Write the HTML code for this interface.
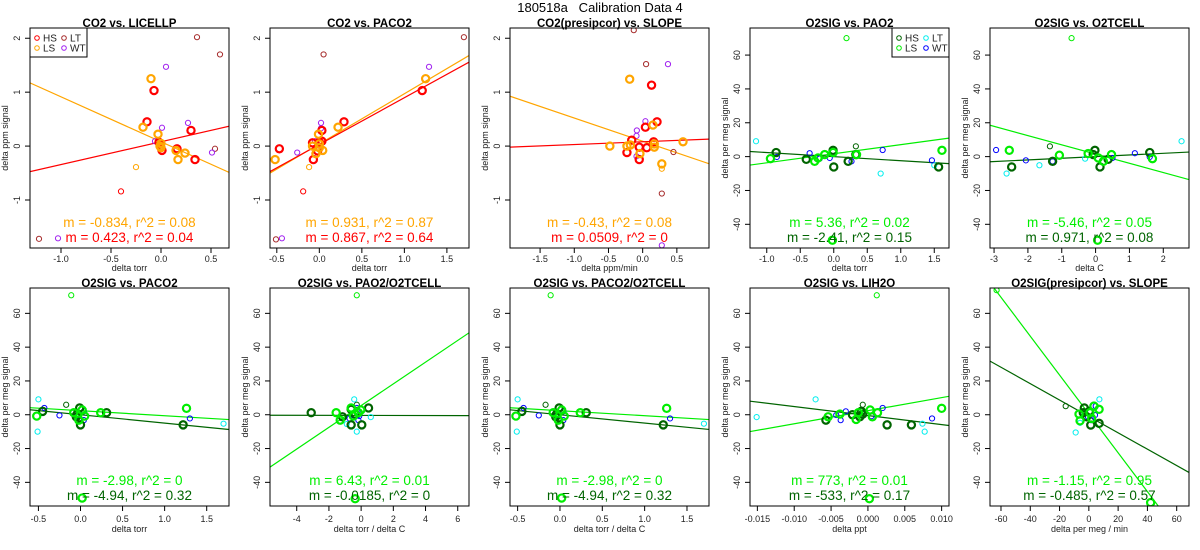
<!DOCTYPE html>
<html><head><meta charset="utf-8">
<style>
html,body{margin:0;padding:0;background:#fff;}
svg{display:block;font-family:"Liberation Sans",sans-serif;}
</style></head>
<body>
<svg id="chart" width="1200" height="550" viewBox="0 0 1200 550">
<text x="600" y="12" text-anchor="middle" font-size="13" xml:space="preserve" style="white-space:pre">180518a   Calibration Data 4</text>
</svg>
<script>
// ---- data ----
const p1HS=[[-0.07,1.03],[-0.14,0.45],[0.30,0.29],[0.34,-0.25],[0.16,-0.05],[0.01,-0.08],[-0.02,0.07]];
const p1LS=[[-0.10,1.25],[-0.18,0.35],[-0.03,0.22],[0.00,0.05],[0.00,-0.03],[0.15,-0.08],[0.24,-0.13],[0.17,-0.25],[-0.01,0.0]];
const p1LT=[[0.36,2.02],[0.59,1.70],[0.54,-0.05],[-1.22,-1.72]];
const p1WT=[[0.05,1.47],[0.01,0.34],[0.27,0.43],[-0.06,0.09],[0.51,-0.12],[-1.03,-1.71]];
const p1HSt=[[-0.40,-0.84]];
const p1LSt=[[-0.25,-0.39]];
const p1Slopes=[-0.834,0.423];
const p1Icpts=[0.08,0.08];

const p2HS=[[-0.47,-0.05],[-0.07,-0.25],[-0.08,0.06],[0.03,0.29],[0.03,0.09],[0.00,0.07],[-0.02,-0.09],[0.29,0.45],[1.21,1.03]];
const p2LS=[[-0.52,-0.25],[-0.08,0.00],[-0.01,0.22],[0.22,0.35],[0.00,0.04],[0.04,-0.08],[-0.04,-0.14],[1.25,1.25],[0.00,-0.03]];
const p2LT=[[0.05,1.70],[1.70,2.02],[-0.51,-1.73]];
const p2WT=[[1.29,1.47],[0.02,0.43],[0.02,0.33],[-0.26,-0.12],[-0.05,0.09],[-0.44,-1.71]];
const p2HSt=[[-0.19,-0.84]];
const p2LSt=[[-0.12,-0.39]];
const p2Slopes=[0.931,0.867];
const p2Icpts=[0.04,0.03];

const p3HS=[[-0.23,-0.12],[-0.16,0.11],[-0.05,-0.25],[-0.05,-0.02],[0.04,0.35],[0.06,-0.03],[0.13,1.13],[0.16,0.08],[0.21,0.45]];
const p3LS=[[-0.48,0.0],[-0.19,1.24],[-0.23,0.0],[-0.18,0.02],[-0.04,-0.14],[0.15,0.39],[0.17,0.04],[0.17,-0.02],[0.28,-0.33],[0.59,0.08]];
const p3LT=[[-0.13,2.15],[0.05,1.52],[0.45,-0.11],[0.28,-0.88]];
const p3WT=[[0.37,1.52],[0.04,0.46],[-0.085,0.29],[-0.09,0.19],[-0.09,-0.19],[0.28,-1.84]];
const p3HSt=[];
const p3LSt=[[0.28,-0.42]];
const p3Slopes=[-0.43,0.0509];
const p3Icpts=[0.09,0.08];

const p4HS=[[-0.86,2.4],[-0.41,-1.6],[-0.01,3.7],[0,-6.1],[0.215,-2.8],[1.565,-6.1],[0.33,1.2]];
const p4LS=[[-0.945,-1.2],[-0.285,-2.8],[-0.135,1.2],[-0.01,2.4],[0.34,1.2],[1.615,3.7],[-0.02,-49.4],[-0.235,-0.8]];
const p4LT=[[-1.16,9.1],[0.70,-10],[1.5,-5.1]];
const p4WT=[[-0.85,-0.2],[-0.36,2],[-0.06,-0.8],[0.265,-2.8],[0.73,3.9],[1.465,-2.2],[-0.21,-1.2]];
const p4HSt=[[0.33,6.1]];
const p4LSt=[[0.19,70]];
const p4Slopes=[5.36,-2.41];
const p4Icpts=[1.7,0];

const p5HS=[[-2.48,-6.1],[-1.27,-2.8],[-0.02,3.7],[0.13,-6.1],[0.37,-1.6],[1.6,2.4],[-0.07,1.2]];
const p5LS=[[-2.55,3.7],[-1.07,0.8],[-0.22,1.8],[0.08,-0.8],[0.23,-2.8],[0.47,1.2],[1.68,-1.2],[0.06,-49.4]];
const p5LT=[[-2.63,-10],[-1.66,-5.1],[-0.31,-1.2],[2.54,9.1]];
const p5WT=[[-2.94,3.9],[-2.06,-2.2],[-1.27,-2.8],[0.5,-0.8],[1.16,2],[1.6,-0.2]];
const p5HSt=[[-1.35,6.1]];
const p5LSt=[[-0.71,70]];
const p5Slopes=[-5.46,0.971];
const p5Icpts=[1.5,0];

const p6HS=[[-0.45,2],[-0.01,4],[0,-6],[0.31,1.2],[1.22,-6],[-0.05,-1.2],[-0.04,0.4]];
const p6LS=[[-0.52,-0.8],[-0.08,1.2],[-0.02,-3.2],[0.05,-0.8],[0.24,1.2],[1.26,3.8],[0.02,-49.3],[0.02,2.8]];
const p6LT=[[-0.5,9.1],[-0.51,-10],[1.7,-5.3]];
const p6WT=[[-0.43,4],[-0.25,-0.4],[-0.04,-0.8],[0.04,2],[0.04,-3.2],[1.3,-2.2]];
const p6HSt=[[-0.17,5.9]];
const p6LSt=[[-0.11,70.7]];
const p6Slopes=[-2.98,-4.94];
const p6Icpts=[2.4,0];

const p7HS=[[-3.1,1.2],[-1.16,-1.2],[-0.62,-6],[0.04,-6],[0.46,4],[-0.62,3.2],[-0.37,0.4]];
const p7LS=[[-1.55,1.2],[-1.3,-3.2],[-0.62,4],[-0.02,2.8],[-0.48,-0.8],[-0.17,1.2],[-0.37,-49.7]];
const p7LT=[[-0.43,9.1],[-0.27,-10],[-0.89,-5.5],[0.6,-1.4]];
const p7WT=[[-0.27,4],[-0.72,-2.2],[-0.23,1.8],[-0.17,-3.2],[-0.12,-0.8]];
const p7HSt=[[-0.27,5.9]];
const p7LSt=[[-0.27,70.7]];
const p7Slopes=[6.43,-0.0185];
const p7Icpts=[5.4,-0.4];

const p8HS=[[-0.45,2],[-0.01,4],[0,-6],[0.31,1.2],[1.22,-6],[-0.05,-1.2],[-0.04,0.4]];
const p8LS=[[-0.52,-0.8],[-0.08,1.2],[-0.02,-3.2],[0.05,-0.8],[0.24,1.2],[1.26,3.8],[0.02,-49.3],[0.02,2.8]];
const p8LT=[[-0.5,9.1],[-0.51,-10],[1.7,-5.3]];
const p8WT=[[-0.43,4],[-0.25,-0.4],[-0.04,-0.8],[0.04,2],[0.04,-3.2],[1.3,-2.2]];
const p8HSt=[[-0.17,5.9]];
const p8LSt=[[-0.11,70.7]];
const p8Slopes=[-2.98,-4.94];
const p8Icpts=[2.4,0];

const p9HS=[[-0.0057,-3.2],[-0.0021,0],[-0.0011,-1.2],[-0.0009,2],[0.0026,-6],[0.0059,-6],[-0.0007,0.4]];
const p9LS=[[-0.0054,-1.2],[-0.0038,0.4],[-0.0016,-2.8],[-0.0013,1.2],[0.0003,2.8],[0.0013,1.2],[0.01,3.8],[0.0006,-1.2],[0.0002,-49.7]];
const p9LT=[[-0.0151,-1.4],[-0.0071,9.1],[0.0074,-5.3],[0.0077,-10]];
const p9WT=[[-0.0043,-0.2],[-0.0037,-3.2],[-0.003,2],[0.0005,-0.8],[0.002,4],[0.0087,-2.2]];
const p9HSt=[[-0.0007,5.9]];
const p9LSt=[[0.0012,70.7]];
const p9Slopes=[773,-533];
const p9Icpts=[2.4,-0.5];

const p10HS=[[-3.1,4],[0.3,2],[1.3,-6.1],[7,-5.1],[-3.8,1.2],[-1.5,-1.2]];
const p10LS=[[-6.7,0.4],[-6,-3.6],[3.5,5.1],[7,3.2],[0.8,1.2],[42.2,-52],[1.9,-2.2]];
const p10LT=[[-9,-10.5],[-6,-4.8],[7.2,9.1]];
const p10WT=[[-2.6,1.8],[4.7,5.1],[4.2,-0.2],[-0.6,-1.2],[1.5,-3.2],[-3.1,0.4]];
const p10HSt=[[-15.8,5.1]];
const p10LSt=[[-63,73.7]];
const p10Slopes=[-1.15,-0.485];
const p10Icpts=[0.5,-1];

const panelTitles=["CO2 vs. LICELLP","CO2 vs. PACO2","CO2(presipcor) vs. SLOPE","O2SIG vs. PAO2","O2SIG vs. O2TCELL","O2SIG vs. PACO2","O2SIG vs. PAO2/O2TCELL","O2SIG vs. PACO2/O2TCELL","O2SIG vs. LIH2O","O2SIG(presipcor) vs. SLOPE"];
const xLabels=["delta torr","delta torr","delta ppm/min","delta torr","delta C","delta torr","delta torr / delta C","delta torr / delta C","delta ppt","delta per meg / min"];
const fitLabels=[
 ["m = -0.834, r^2 = 0.08","m = 0.423, r^2 = 0.04"],
 ["m = 0.931, r^2 = 0.87","m = 0.867, r^2 = 0.64"],
 ["m = -0.43, r^2 = 0.08","m = 0.0509, r^2 = 0"],
 ["m = 5.36, r^2 = 0.02","m = -2.41, r^2 = 0.15"],
 ["m = -5.46, r^2 = 0.05","m = 0.971, r^2 = 0.08"],
 ["m = -2.98, r^2 = 0","m = -4.94, r^2 = 0.32"],
 ["m = 6.43, r^2 = 0.01","m = -0.0185, r^2 = 0"],
 ["m = -2.98, r^2 = 0","m = -4.94, r^2 = 0.32"],
 ["m = 773, r^2 = 0.01","m = -533, r^2 = 0.17"],
 ["m = -1.15, r^2 = 0.95","m = -0.485, r^2 = 0.57"]];
const xTicks=[[-1,-0.5,0,0.5],[-0.5,0,0.5,1,1.5],[-1.5,-1,-0.5,0,0.5],[-1,-0.5,0,0.5,1,1.5],[-3,-2,-1,0,1,2],
 [-0.5,0,0.5,1,1.5],[-4,-2,0,2,4,6],[-0.5,0,0.5,1,1.5],[-0.015,-0.01,-0.005,0,0.005,0.01],[-60,-40,-20,0,20,40,60]];
const xDecimals=[1,1,1,1,0,1,0,1,3,0];
const co2YTicks=[-1,0,1,2];
const o2YTicks=[-40,-20,0,20,40,60];

// ---- layout (not data) ----
const xLims=[[-1.31,0.68],[-0.58,1.76],[-1.94,0.97],[-1.25,1.72],[-3.12,2.76],[-0.6,1.765],[-5.66,6.7],[-0.59,1.76],[-0.016,0.011],[-67.5,68.4]];
const co2Lim=[-1.89,2.19], o2LimTop=[-54,76], o2LimBot=[-54,75];

const NS="http://www.w3.org/2000/svg";
const svg=document.getElementById('chart');
function mk(tag,attrs,parent){const e=document.createElementNS(NS,tag);for(const k in attrs)e.setAttribute(k,attrs[k]);(parent||svg).appendChild(e);return e;}

const pdata=[[p1HS,p1LS,p1LT,p1WT,p1HSt,p1LSt,p1Slopes,p1Icpts],[p2HS,p2LS,p2LT,p2WT,p2HSt,p2LSt,p2Slopes,p2Icpts],
 [p3HS,p3LS,p3LT,p3WT,p3HSt,p3LSt,p3Slopes,p3Icpts],[p4HS,p4LS,p4LT,p4WT,p4HSt,p4LSt,p4Slopes,p4Icpts],
 [p5HS,p5LS,p5LT,p5WT,p5HSt,p5LSt,p5Slopes,p5Icpts],[p6HS,p6LS,p6LT,p6WT,p6HSt,p6LSt,p6Slopes,p6Icpts],
 [p7HS,p7LS,p7LT,p7WT,p7HSt,p7LSt,p7Slopes,p7Icpts],[p8HS,p8LS,p8LT,p8WT,p8HSt,p8LSt,p8Slopes,p8Icpts],
 [p9HS,p9LS,p9LT,p9WT,p9HSt,p9LSt,p9Slopes,p9Icpts],[p10HS,p10LS,p10LT,p10WT,p10HSt,p10LSt,p10Slopes,p10Icpts]];

const co2Col={HS:'#ff0000',LS:'#ffa500',LT:'#a52a2a',WT:'#a020f0'};
const o2Col={HS:'#006400',LS:'#00ee00',LT:'#00eeee',WT:'#0000ff'};

for(let i=0;i<10;i++){
  const col=i%5,row=Math.floor(i/5);
  const L=30+240*col,R=229+240*col;
  const T=row===0?28:288,B=row===0?248:506;
  const isCO2=(i<3);
  const C=isCO2?co2Col:o2Col;
  const yl=isCO2?co2Lim:(row===0?o2LimTop:o2LimBot);
  const yt=isCO2?co2YTicks:o2YTicks;
  const xl=xLims[i];
  const sx=v=>L+(v-xl[0])/(xl[1]-xl[0])*(R-L);
  const sy=v=>B-(v-yl[0])/(yl[1]-yl[0])*(B-T);
  const g=mk('g',{});
  
  
  const clipId='clip'+i;
  const cp=mk('clipPath',{id:clipId},g);mk('rect',{x:L,y:T,width:R-L,height:B-T},cp);
  const tickOff=row===0?14:16, labOff=row===0?23:26;
  const xlab=mk('text',{x:(L+R)/2,y:B+labOff,'text-anchor':'middle','font-size':'9',fill:'#222'},g);xlab.textContent=xLabels[i];
  
  
  xTicks[i].forEach(v=>{const x=sx(v);mk('line',{x1:x,x2:x,y1:B,y2:B+5,stroke:'#000','stroke-width':1},g);
    const t=mk('text',{x:x,y:B+tickOff,'text-anchor':'middle','font-size':'9',fill:'#222'},g);t.textContent=v.toFixed(xDecimals[i]);
    
    });
  yt.forEach(v=>{const y=sy(v);mk('line',{x1:L-5,x2:L,y1:y,y2:y,stroke:'#000','stroke-width':1},g);
    const t=mk('text',{x:L-10,y:y,'text-anchor':'middle','font-size':'9',fill:'#222',transform:`rotate(-90 ${L-10} ${y})`},g);t.textContent=String(v);
    
    });
  const yx=L-22,yc=(T+B)/2;
  const ylab=mk('text',{x:yx,y:yc,'text-anchor':'middle','font-size':'9',fill:'#222',transform:`rotate(-90 ${yx} ${yc})`},g);ylab.textContent=isCO2?'delta ppm signal':'delta per meg signal';
  
  
  const tt=mk('text',{x:(L+R)/2,y:T-1,'text-anchor':'middle','font-size':'11.5','font-weight':'bold'},g);tt.textContent=panelTitles[i];
  
  
  const [hs,ls,lt,wt,hst,lst,sl,ic]=pdata[i];
  const pg=mk('g',{'clip-path':`url(#${clipId})`},g);
  [[sl[0],ic[0],C.LS],[sl[1],ic[1],C.HS]].forEach(([m,b,c])=>{
    const ln=mk('line',{x1:sx(xl[0]),y1:sy(m*xl[0]+b),x2:sx(xl[1]),y2:sy(m*xl[1]+b),stroke:c,'stroke-width':1.2},pg);
    
    
  });
  const pts=(arr,c,bold,name)=>arr.forEach(p=>{const e=mk('circle',{cx:sx(p[0]),cy:sy(p[1]),r:bold?3.6:2.6,fill:'none',stroke:c,'stroke-width':bold?2.2:1},pg);
    
    });
  pts(lt,C.LT,false,'lt');pts(wt,C.WT,false,'wt');pts(hst,C.HS,false,'hs');pts(lst,C.LS,false,'ls');
  pts(hs,C.HS,true,'hs');pts(ls,C.LS,true,'ls');
  const ly1=row===0?227:485, ly2=row===0?242:500;
  const a1=mk('text',{x:(L+R)/2,y:ly1,'text-anchor':'middle','font-size':'13.5',fill:C.LS},g);a1.textContent=fitLabels[i][0];
  
  
  const a2=mk('text',{x:(L+R)/2,y:ly2,'text-anchor':'middle','font-size':'13.5',fill:C.HS},g);a2.textContent=fitLabels[i][1];
  
  
  const box=mk('rect',{x:L,y:T,width:R-L,height:B-T,fill:'none',stroke:'#000','stroke-width':1},g);
  
  
  if(i===0||i===3){
    const lx=i===0?L:R-57, lg=mk('g',{},g);
    
    
    mk('rect',{x:lx,y:T,width:57,height:29,fill:'#fff',stroke:'#000','stroke-width':1},lg);
    [['HS',0,0],['LS',0,1],['LT',1,0],['WT',1,1]].forEach(([k,cx,cy])=>{
      const mx=lx+7+cx*27,my=T+10+cy*10;
      mk('circle',{cx:mx,cy:my,r:2.3,fill:'none',stroke:C[k],'stroke-width':1},lg);
      const t=mk('text',{x:mx+6,y:my+3.5,'font-size':'10',fill:'#222'},lg);t.textContent=k;
      
      
    });
  }
}
</script>
</body></html>
